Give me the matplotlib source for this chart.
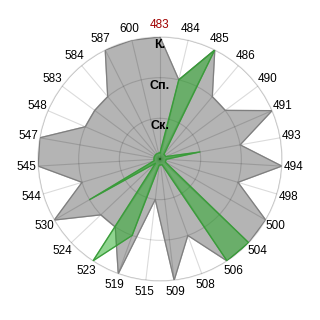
import numpy as np
import matplotlib.pyplot as plt

plt.rcParams['font.family'] = ['Liberation Sans', 'DejaVu Sans']

# categories around the circle, clockwise from the top
cats = ['483', '484', '485', '486', '490', '491', '493', '494', '498', '500',
        '504', '506', '508', '509', '515', '519', '523', '524', '530', '544',
        '545', '547', '548', '583', '584', '587', '600']
# 1 = Ск., 2 = Сп., 3 = К.
gray_vals = [3, 2, 3, 2, 2, 3, 2, 3, 2, 3, 3, 3, 2, 3, 1, 3, 2, 2, 3, 2,
             3, 3, 2, 2, 2, 3, 3]
green_vals = [0.15, 2, 3, 0.15, 0.15, 0.15, 1, 0.15, 0.15, 0.15, 3, 3, 0.15,
              0.15, 0.15, 2, 3, 0.15, 2, 0.15, 0.15, 0.15, 0.15, 0.15, 0.15,
              0.15, 0.15]
ring_names = ['Ск.', 'Сп.', 'К.']
ring_vals = [1, 2, 3]

n = len(cats)
ang = np.linspace(0, 2 * np.pi, n, endpoint=False)
ang_c = np.append(ang, ang[0])

fig = plt.figure(figsize=(3.2, 3.2), dpi=100)
ax = fig.add_axes([0.11875, 0.1219, 0.7625, 0.7625], projection='polar')
ax.set_theta_zero_location('N')
ax.set_theta_direction(-1)
ax.set_ylim(0, 3)

g = np.append(gray_vals, gray_vals[0])
ax.fill(ang_c, g, color='#b4b4b4', zorder=2)
ax.plot(ang_c, g, color='#7f7f7f', lw=0.9, zorder=3)

gr = np.append(green_vals, green_vals[0])
ax.fill(ang_c, gr, color='#22aa22', alpha=0.5, zorder=4)
ax.plot(ang_c, gr, color='#3a9a3a', lw=0.8, zorder=5)

ax.set_xticks(ang)
ax.set_xticklabels(cats, fontsize=8.5)
ax.tick_params(axis='x', pad=-2)
ax.get_xticklabels()[0].set_color('#a00000')
ax.set_yticks(ring_vals)
ax.set_yticklabels([])
ax.grid(True, color='black', alpha=0.14, lw=0.8, zorder=6)
ax.set_axisbelow(False)
ax.spines['polar'].set_color('#dddddd')
ax.spines['polar'].set_linewidth(0.9)

for v, name in zip(ring_vals, ring_names):
    ax.text(0, v - 0.2, name, ha='center', va='center', fontsize=9,
            fontweight='bold', zorder=7)

fig.savefig('out.png', dpi=100)
